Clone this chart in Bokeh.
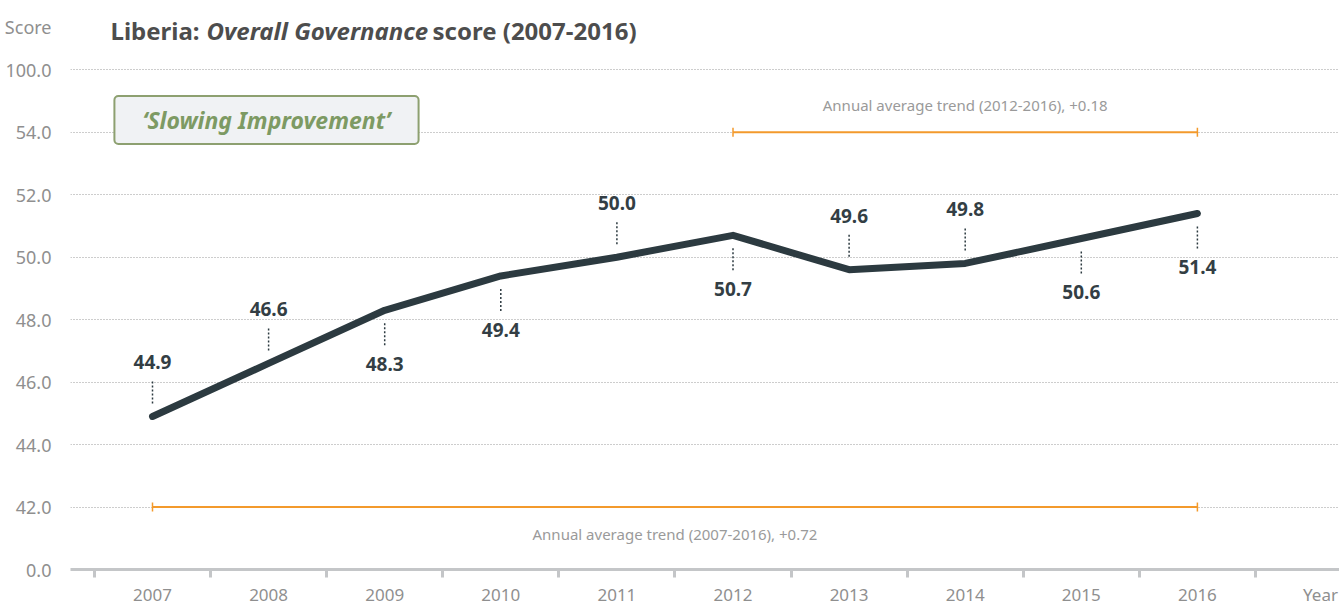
import numpy as np
from bokeh.plotting import figure
from bokeh.models import FixedTicker, Label
from bokeh.core.properties import value
from bokeh.embed import file_html
from bokeh.resources import INLINE

# ---------------- data ----------------
years = [2007, 2008, 2009, 2010, 2011, 2012, 2013, 2014, 2015, 2016]
scores = [44.9, 46.6, 48.3, 49.4, 50.0, 50.7, 49.6, 49.8, 50.6, 51.4]
ytick_values = [40, 42, 44, 46, 48, 50, 52, 54, 56]
ytick_labels = ["0.0", "42.0", "44.0", "46.0", "48.0", "50.0", "52.0", "54.0", "100.0"]
trend_starts = [2007, 2012]
trend_ends = [2016, 2016]
trend_levels = [42, 54]
trend_texts = ["Annual average trend (2007-2016), +0.72",
               "Annual average trend (2012-2016), +0.18"]
title_parts = ["Liberia:", "Overall Governance", "score (2007-2016)"]
badge_text = "\u2018Slowing Improvement\u2019"
x_axis_name = "Year"
y_axis_name = "Score"

# ---------------- style / geometry ----------------
FONT = "Noto Sans"
W, H = 1339, 608
PX = 116.1          # pixels per year
PY = 31.34          # pixels per score unit
LEFT, BOTTOM = 70, 571
X_START = 2007 - (152 - LEFT) / PX
X_END = 2007 + (W - 152) / PX
Y_START = 40
Y_END = 40 + BOTTOM / PY


def px2x(px):
    return 2007 + (px - 152) / PX


def px2y(py):
    return 40 + (BOTTOM - py) / PY


label_side = [1, 1, -1, -1, 1, -1, 1, 1, -1, -1]  # +1 above, -1 below

p = figure(width=W, height=H, x_range=(X_START, X_END), y_range=(Y_START, Y_END),
           output_backend="svg", toolbar_location=None,
           min_border_left=LEFT, min_border_right=0, min_border_top=0,
           min_border_bottom=H - BOTTOM)
p.outline_line_color = None
p.background_fill_color = "white"
p.border_fill_color = "white"

# x axis (axis name placed as an extra tick label at the right end)
year_name_pos = px2x(1320)
p.xaxis.ticker = FixedTicker(ticks=years + [year_name_pos],
                             minor_ticks=[y - 0.5 for y in years] + [years[-1] + 0.5])
xover = {y: str(y) for y in years}
xover[year_name_pos] = x_axis_name
p.xaxis.major_label_overrides = xover
p.xaxis.major_tick_line_color = None
p.xaxis.major_tick_out = 0
p.xaxis.major_tick_in = 0
p.xaxis.minor_tick_out = 8
p.xaxis.minor_tick_in = 0
p.xaxis.minor_tick_line_color = "#c4c6c8"
p.xaxis.minor_tick_line_width = 3
p.xaxis.axis_line_color = "#c4c6c8"
p.xaxis.axis_line_width = 3
p.xaxis.major_label_text_font = FONT
p.xaxis.major_label_text_font_size = "17px"
p.xaxis.major_label_text_color = "#8f8f8f"
p.xaxis.major_label_standoff = 5
p.xgrid.visible = False

# y axis (axis name placed as an extra tick label at the top)
score_name_pos = px2y(27)
p.yaxis.ticker = FixedTicker(ticks=ytick_values + [score_name_pos])
yover = {v: s for v, s in zip(ytick_values, ytick_labels)}
yover[score_name_pos] = y_axis_name
p.yaxis.major_label_overrides = yover
p.yaxis.axis_line_color = None
p.yaxis.major_tick_line_color = None
p.yaxis.minor_tick_line_color = None
p.yaxis.major_label_standoff = 13
p.yaxis.major_label_text_font = FONT
p.yaxis.major_label_text_font_size = "18px"
p.yaxis.major_label_text_color = "#8f8f8f"
p.ygrid.ticker = FixedTicker(ticks=ytick_values[1:])
p.ygrid.grid_line_color = "#9a9a9a"
p.ygrid.grid_line_dash = "1 2"
p.ygrid.grid_line_width = 1

# trend lines (orange)
ORANGE = "#f39a2c"
p.segment(x0=trend_starts, y0=trend_levels, x1=trend_ends, y1=trend_levels,
          line_color=ORANGE, line_width=2)
cap_x = trend_starts + trend_ends
cap_y = trend_levels + trend_levels
p.scatter(x=cap_x, y=cap_y, marker="dash", angle=np.pi / 2, size=9,
          line_color=ORANGE, line_width=1.5)
mids = [(a + b) / 2 for a, b in zip(trend_starts, trend_ends)]
p.text(x=mids, y=trend_levels, text=trend_texts, y_offset=[27, -27],
       text_align="center", text_baseline="middle", text_font=value(FONT),
       text_font_size="15px", text_color="#9a9a9a")

# main line
p.line(years, scores, line_width=7, line_color="#2c3a40", line_cap="round", line_join="round")

# leader lines and value labels
lead_y0 = [v + s * 13 / PY for v, s in zip(scores, label_side)]
lead_y1 = [v + s * 37 / PY for v, s in zip(scores, label_side)]
p.segment(x0=years, y0=lead_y0, x1=years, y1=lead_y1, line_color="#2c3a40",
          line_width=1.5, line_dash="2 2")
p.text(x=years, y=scores, text=[f"{v:.1f}" for v in scores],
       y_offset=[-s * 54 for s in label_side], text_align="center", text_baseline="middle",
       text_font=value(FONT), text_font_style="bold", text_font_size="19px",
       text_color="#333e44")

# badge
badge = Label(x=px2x(266), y=px2y(120), text=badge_text, text_align="center",
              text_baseline="middle", text_font=FONT, text_font_style="bold italic",
              text_font_size="23px", text_color="#7d9a63",
              background_fill_color="#f0f2f4", border_line_color="#8da070",
              border_line_width=2, padding=dict(left=28, right=28, top=8, bottom=8),
              border_radius=4)
p.add_layout(badge)

# title
TITLE_COLOR = "#4d4d4d"
for txt, xpx, style in zip(title_parts, [110, 206, 432], ["bold", "bold italic", "bold"]):
    p.add_layout(Label(x=px2x(xpx), y=px2y(30), text=txt, text_align="left",
                       text_baseline="middle", text_font=FONT, text_font_style=style,
                       text_font_size="24px", text_color=TITLE_COLOR))

open("out.html", "w").write(file_html(p, INLINE))
